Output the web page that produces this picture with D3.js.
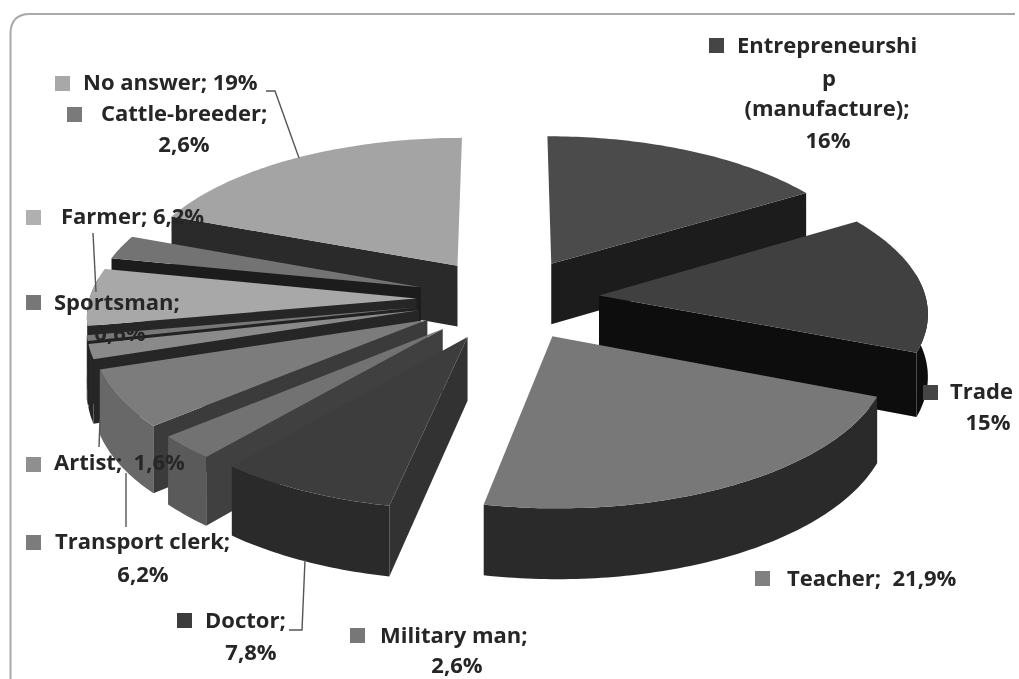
<!DOCTYPE html>
<html><head><meta charset="utf-8">
<script src="https://cdn.jsdelivr.net/npm/d3@7/dist/d3.min.js"></script>
<style>html,body{margin:0;padding:0;background:#fff;overflow:hidden}svg{display:block}
text{font-family:"Open Sans",Lato,sans-serif;font-weight:700;fill:#262626}</style>
</head><body><script>
const categories=["Entrepreneurship (manufacture)","Trade","Teacher","Doctor","Military man","Transport clerk","Artist","Sportsman","Farmer","Cattle-breeder","No answer"];
const shares=[16,15,21.9,7.8,2.6,6.2,1.6,0.6,6.2,2.6,19];
const topShades=["#4b4b4b","#414141","#787878","#3c3c3c","#727272","#7b7b7b","#8a8a8a","#777777","#a8a8a8","#737373","#a4a4a4"];
const outerShades=["#1c1c1c","#0c0c0c","#2b2b2b","#2a2a2a","#5a5a5a","#686868","#262626","#222222","#262626","#1e1e1e","#2a2a2a"];
const cutShades=["#1c1c1c","#0c0c0c","#2b2b2b","#333333","#404040","#3a3a3a","#262626","#222222","#262626","#1e1e1e","#2a2a2a"];
const markerShades=["#444444","#444444","#808080","#3c3c3c","#777777","#7b7b7b","#8f8f8f","#777777","#b0b0b0","#7a7a7a","#a8a8a8"];
const labelLines=[["Entrepreneurshi","p","(manufacture);","16%"],["Trade","15%"],["Teacher;  21,9%"],["Doctor;","7,8%"],["Military man;","2,6%"],["Transport clerk;","6,2%"],["Artist;  1,6%"],["Sportsman;","0,6%"],["Farmer; 6,2%"],["Cattle-breeder;","2,6%"],["No answer; 19%"]];

const W=1019,H=679,R=1,explode=0.28,cx=508,cy=299,rx=327,ry=147,persp=0.1,depth=62;
const svg=d3.select("body").append("svg").attr("width",W).attr("height",H);
const defs=svg.append("defs");
defs.append("filter").attr("id","soft").append("feGaussianBlur").attr("stdDeviation",0.7);
const root=svg.append("g").attr("filter","url(#soft)");

root.append("path").attr("d","M10.5,679V34Q10.5,14 30,14H1015").attr("fill","none").attr("stroke","#a9a9a9").attr("stroke-width",2);

const pie=d3.pie().sort(null).value(d=>d).startAngle(0).endAngle(2*Math.PI);
const arcs=pie(shares);
const xDisc=d3.scaleLinear().domain([-R,R]).range([-rx,rx]);
const yDisc=d3.scaleLinear().domain([-R,R]).range([-ry,ry]);
function project(a,r,mid,down){
  const X=r*Math.sin(a)+explode*Math.sin(mid), Y=-r*Math.cos(a)-explode*Math.cos(mid);
  const s=1/(1-persp*Y);
  return [cx+xDisc(X)*s, cy+yDisc(Y)*s+(down?depth*s:0)];
}
const line=d3.line();
const slices=arcs.map((d,i)=>({...d,i,mid:(d.startAngle+d.endAngle)/2}))
  .sort((a,b)=>(-Math.cos(a.mid))-(-Math.cos(b.mid)));
const pieG=root.append("g");
slices.forEach(d=>{
  const n=Math.max(6,Math.ceil((d.endAngle-d.startAngle)*60));
  const angles=d3.range(n+1).map(k=>d.startAngle+(d.endAngle-d.startAngle)*k/n);
  const g=pieG.append("g").attr("class","slice");
  const apex=project(0,0,d.mid,false), apexD=project(0,0,d.mid,true);
  const s0=project(d.startAngle,R,d.mid,false), s0D=project(d.startAngle,R,d.mid,true);
  const e0=project(d.endAngle,R,d.mid,false), e0D=project(d.endAngle,R,d.mid,true);
  const front=angles.filter(a=>-Math.cos(a)>-0.15);
  if(front.length>1){
    const up0=front.map(a=>project(a,R,d.mid,false));
    const low0=front.map(a=>project(a,R,d.mid,true)).reverse();
    g.append("path").attr("d",line(up0.concat(low0))+"Z").attr("fill",outerShades[d.i]);
  }
  if(-Math.sin(d.startAngle)>0.02) g.append("path").attr("d",line([apex,s0,s0D,apexD])+"Z").attr("fill",cutShades[d.i]);
  if(Math.sin(d.endAngle)>0.02) g.append("path").attr("d",line([apex,e0,e0D,apexD])+"Z").attr("fill",cutShades[d.i]);
  const up=angles.map(a=>project(a,R,d.mid,false));
  g.append("path").attr("d",line([apex].concat(up))+"Z").attr("fill",topShades[d.i]);
});

const leaders=[
 {of:"No answer",pts:[[266,91],[275,91],[299,158]]},
 {of:"Farmer",pts:[[93,233],[96,292]]},
 {of:"Artist",pts:[[100,420],[99,447]]},
 {of:"Transport clerk",pts:[[126,473],[126,527]]},
 {of:"Doctor",pts:[[305,560],[302,630],[289,630]]}];
root.selectAll("path.leader").data(leaders).join("path").attr("class","leader")
 .attr("d",d=>line(d.pts)).attr("fill","none").attr("stroke","#555").attr("stroke-width",1.4);

const layout=[
 {mx:709,my:38,ys:[47,80,110,142],xs:[737,829,827,828]},
 {mx:923,my:385,ys:[393,424],xs:[950,988]},
 {mx:755,my:571,ys:[580],xs:[787]},
 {mx:177,my:613,ys:[622,654],xs:[205,251]},
 {mx:350,my:628,ys:[637,667],xs:[380,457]},
 {mx:26,my:535,ys:[543,576],xs:[55,143]},
 {mx:26,my:457,ys:[464],xs:[54]},
 {mx:26,my:295,ys:[304,335],xs:[54,120]},
 {mx:26,my:210,ys:[218],xs:[61]},
 {mx:67,my:107,ys:[115,146],xs:[101,184]},
 {mx:55,my:76,ys:[84],xs:[83]}];
const FS=22;
const lab=root.selectAll("g.label").data(categories).join("g").attr("class","label");
lab.append("rect").attr("x",(d,i)=>layout[i].mx).attr("y",(d,i)=>layout[i].my).attr("width",15).attr("height",15).attr("fill",(d,i)=>markerShades[i]);
lab.each(function(d,i){
  d3.select(this).selectAll("text").data(labelLines[i]).join("text")
   .style("white-space","pre")
   .attr("x",(t,k)=>layout[i].xs[k]).attr("y",(t,k)=>layout[i].ys[k])
   .attr("dominant-baseline","middle").attr("font-size",FS)
   .attr("text-anchor",(t,k)=>k===0?"start":"middle").text(t=>t);
});
</script></body></html>
